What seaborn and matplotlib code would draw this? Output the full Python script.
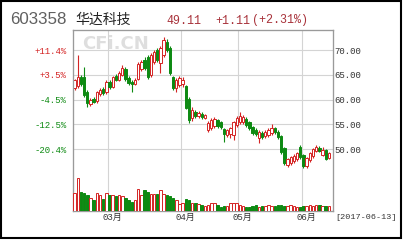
import matplotlib
matplotlib.use("Agg")
import matplotlib.pyplot as plt
import matplotlib.transforms as mtransforms
from matplotlib.patches import Rectangle
import seaborn as sns
import numpy as np
import pandas as pd

sns.set_theme(style="white")
plt.rcParams['font.family'] = ['Liberation Mono', 'Noto Sans CJK SC', 'DejaVu Sans']

# ---- data ----
open_ = [62.3, 62.7, 64.6, 64.5, 61.5, 59.1, 60.2, 59.6, 61.2, 62.2,
         61.5, 63.6, 62.6, 64.8, 64.0, 65.0, 66.2, 64.4, 63.6, 63.2,
         64.2, 66.2, 68.0, 68.5, 64.9, 67.6, 70.0, 67.4, 69.0, 71.6,
         70.4, 64.5, 62.3, 62.9, 63.1, 62.7, 60.2, 56.2, 57.4, 56.6,
         57.1, 56.3, 53.8, 54.2, 54.6, 55.8, 55.4, 54.0, 52.8, 53.0,
         52.8, 54.8, 55.4, 55.4, 56.0, 55.4, 54.4, 53.8, 52.2, 53.2,
         52.6, 52.8, 53.2, 54.2, 53.5, 52.6, 50.2, 46.7, 47.1, 47.5,
         47.9, 50.4, 48.7, 46.5, 47.7, 48.5, 49.6, 50.2, 48.8, 49.8, 48.2]
high = [64.2, 69.0, 65.0, 66.5, 61.9, 60.4, 60.6, 61.8, 62.4, 62.6,
        63.9, 64.0, 64.8, 65.2, 65.8, 66.9, 66.6, 64.8, 64.0, 64.4,
        67.6, 68.0, 68.6, 68.9, 69.4, 70.0, 70.4, 70.8, 72.6, 72.2,
        70.8, 64.8, 64.3, 64.8, 64.5, 63.0, 60.5, 58.4, 57.9, 57.6,
        57.4, 57.1, 55.6, 56.3, 56.4, 56.1, 55.7, 54.3, 54.1, 54.5,
        55.7, 56.6, 57.5, 56.8, 56.4, 55.6, 54.7, 54.2, 53.8, 53.7,
        53.8, 54.2, 55.0, 54.5, 53.8, 52.9, 50.4, 48.2, 48.6, 48.9,
        49.4, 50.8, 49.0, 48.4, 49.4, 50.3, 50.8, 50.6, 50.4, 50.1, 49.4]
low = [62.0, 62.3, 62.8, 60.6, 58.5, 58.6, 59.2, 59.3, 60.8, 60.9,
       61.2, 62.2, 62.3, 63.7, 63.8, 64.7, 63.8, 63.0, 61.5, 62.9,
       63.9, 65.8, 66.0, 64.2, 64.5, 67.2, 67.6, 65.3, 68.6, 69.6,
       64.9, 62.0, 61.5, 62.5, 62.6, 58.0, 55.2, 55.6, 56.2, 56.3,
       56.0, 56.0, 53.4, 53.9, 54.3, 54.3, 54.0, 51.4, 52.5, 52.3,
       51.8, 54.5, 55.0, 55.0, 54.5, 53.9, 52.9, 52.6, 51.2, 52.1,
       52.3, 52.5, 52.9, 53.1, 52.1, 49.0, 46.7, 46.3, 46.8, 47.2,
       47.6, 48.0, 46.2, 46.2, 47.3, 48.2, 49.3, 49.3, 48.5, 47.7, 47.9]
close = [63.9, 64.6, 63.2, 60.9, 59.2, 59.9, 59.5, 61.5, 62.0, 61.3,
         63.5, 62.6, 64.5, 64.0, 65.4, 66.4, 64.2, 63.4, 63.1, 64.0,
         67.2, 67.6, 66.4, 64.6, 69.0, 69.6, 68.0, 70.4, 72.0, 70.0,
         65.3, 62.3, 63.9, 64.3, 64.0, 58.3, 55.8, 57.9, 56.6, 57.3,
         56.4, 56.8, 55.2, 55.8, 56.0, 54.6, 54.4, 53.0, 53.8, 54.2,
         55.4, 56.2, 56.6, 56.4, 54.8, 54.2, 53.2, 53.0, 53.4, 52.4,
         53.4, 53.8, 54.2, 53.4, 52.4, 49.4, 47.1, 47.9, 48.3, 48.5,
         49.1, 48.3, 46.5, 48.1, 49.1, 50.0, 50.4, 49.6, 49.8, 48.0, 49.11]
volume = [18, 33, 19, 18, 16, 13, 11, 18, 16, 12,
          18, 16, 16, 15, 16, 15, 13, 11, 9, 11,
          22, 16, 21, 19, 17, 17, 17, 21, 17, 16,
          15, 13, 11, 7, 8, 12, 11, 8, 7.5, 6.5,
          5.7, 4.7, 5.7, 8.0, 7.4, 5.7, 4.0, 4.5, 4.7, 7.4,
          7.6, 7.4, 5.7, 4.7, 4.0, 4.0, 4.7, 5.4, 4.0, 4.7,
          4.7, 6.0, 4.7, 4.7, 5.4, 5.4, 4.7, 4.7, 5.7, 4.7,
          4.0, 4.0, 4.7, 4.7, 5.7, 5.0, 5.4, 5.7, 4.7, 5.0, 4.7]
price_ticks = [50, 55, 60, 65, 70]
price_labels = ["50.00", "55.00", "60.00", "65.00", "70.00"]
pct_labels = ["-20.4%", "-12.5%", "-4.5%", "+3.5%", "+11.4%"]
month_start = [11, 34, 52, 72]
month_labels = ["03月", "04月", "05月", "06月"]
code = "603358"
name = "华达科技"
last_price = "49.11"
change = "+1.11"
change_pct = "(+2.31%)"
date_label = "[2017-06-13]"

RED = "#d42424"
GREEN = "#0d8a12"
GRID = "#d4d4d4"
FRAME = "#9a9a9a"

n = len(close)
day = np.arange(n) + 0.5
up = np.array(close) >= np.array(open_)
df = pd.DataFrame({"day": day, "vol": volume, "up": up})

fig = plt.figure(figsize=(4.06, 2.40), dpi=100)
fig.patch.set_facecolor("white")
ax = fig.add_axes([73 / 406, 1 - 210.7 / 240, 260 / 406, 180.7 / 240])
ax.set_facecolor("white")

ax.set_xlim(0, 81.8)
ax.set_ylim(37.54, 74.04)

# grid
ax.set_yticks(price_ticks)
ax.set_yticklabels(pct_labels)
for t in price_ticks:
    ax.axhline(t, color=GRID, lw=0.8, zorder=0)
for m in month_start:
    ax.axvline(m, color=GRID, lw=0.8, zorder=0)
ax.set_xticks([])

# candles
for i in range(n):
    col = RED if up[i] else GREEN
    lo_b = min(open_[i], close[i])
    hi_b = max(open_[i], close[i])
    ax.vlines(day[i], low[i], high[i], color=col, lw=0.8, zorder=2)
    ax.bar(day[i], max(hi_b - lo_b, 0.12), bottom=lo_b, width=0.74,
           facecolor="white" if up[i] else GREEN, edgecolor=col,
           linewidth=0.7, zorder=3)

# left tick labels (percent)
ax.tick_params(axis="y", length=0, pad=4.5, labelsize=6.5)
for lab in ax.get_yticklabels():
    lab.set_color(RED if lab.get_text().startswith("+") else GREEN)

# right price labels
ax_r = ax.twinx()
ax_r.set_ylim(ax.get_ylim())
ax_r.set_yticks(price_ticks)
ax_r.set_yticklabels(price_labels)
ax_r.tick_params(axis="y", length=0, pad=0.8, labelsize=6.5, colors="#333333")
ax_r.grid(False)

# volume
ax_v = ax.twinx()
sns.barplot(data=df, x="day", y="vol", native_scale=True, errorbar=None,
            width=0.78, color=GREEN, ax=ax_v, zorder=3)
for p in ax_v.patches:
    cx = p.get_x() + p.get_width() / 2
    idx = int(np.clip(np.floor(cx), 0, n - 1))
    if up[idx]:
        p.set_facecolor("white")
        p.set_edgecolor(RED)
    else:
        p.set_facecolor(GREEN)
        p.set_edgecolor(GREEN)
    p.set_linewidth(0.7)
ax_v.set_ylim(0, 180.7)
ax_v.set_xlim(0, 81.8)
ax_v.set_yticks([])
ax_v.set_xticks([])
ax_v.set_xlabel("")
ax_v.set_ylabel("")
ax_v.grid(False)

for a in (ax, ax_r, ax_v):
    for s in a.spines.values():
        s.set_color(FRAME)
        s.set_linewidth(0.8)

# watermark
ax.text(2.9, 71.3, "CFi.CN", fontsize=13, fontweight="bold",
        family="DejaVu Sans", color="#dedede", va="center", ha="left", zorder=1)

# month labels
trans = mtransforms.blended_transform_factory(ax.transData, fig.transFigure)
for m, lab in zip(month_start, month_labels):
    fig.text(m + 1.3, 1 - 217.5 / 240, lab, transform=trans, ha="center",
             va="center", fontsize=6.5, color="#333333",
             family=["Liberation Mono", "Noto Sans CJK SC"])
fig.text(335 / 406, 1 - 217.5 / 240, date_label, ha="left", va="center",
         fontsize=6.1, color="#333333")

# header
fig.text(10 / 406, 1 - 19 / 240, code, ha="left", va="center", fontsize=12.2,
         family="Liberation Sans", color="#606060")
fig.text(75 / 406, 1 - 19.5 / 240, name, ha="left", va="center", fontsize=10,
         family="Noto Sans CJK SC", color="#222222")
HEAD = "#a8323a"
fig.text(166 / 406, 1 - 20.5 / 240, last_price, ha="left", va="center",
         fontsize=8.4, color=HEAD)
fig.text(215 / 406, 1 - 20.5 / 240, change, ha="left", va="center",
         fontsize=8.4, color=HEAD)
fig.text(252 / 406, 1 - 20.5 / 240, change_pct, ha="left", va="center",
         fontsize=8.4, color=HEAD)

# outer border
fig.patches.append(Rectangle((1.2 / 406, 2.5 / 240), 400.3 / 406, 236.3 / 240,
                             transform=fig.transFigure, fill=False,
                             edgecolor="black", linewidth=1.5))

fig.savefig("out.png", dpi=100, facecolor="white")
